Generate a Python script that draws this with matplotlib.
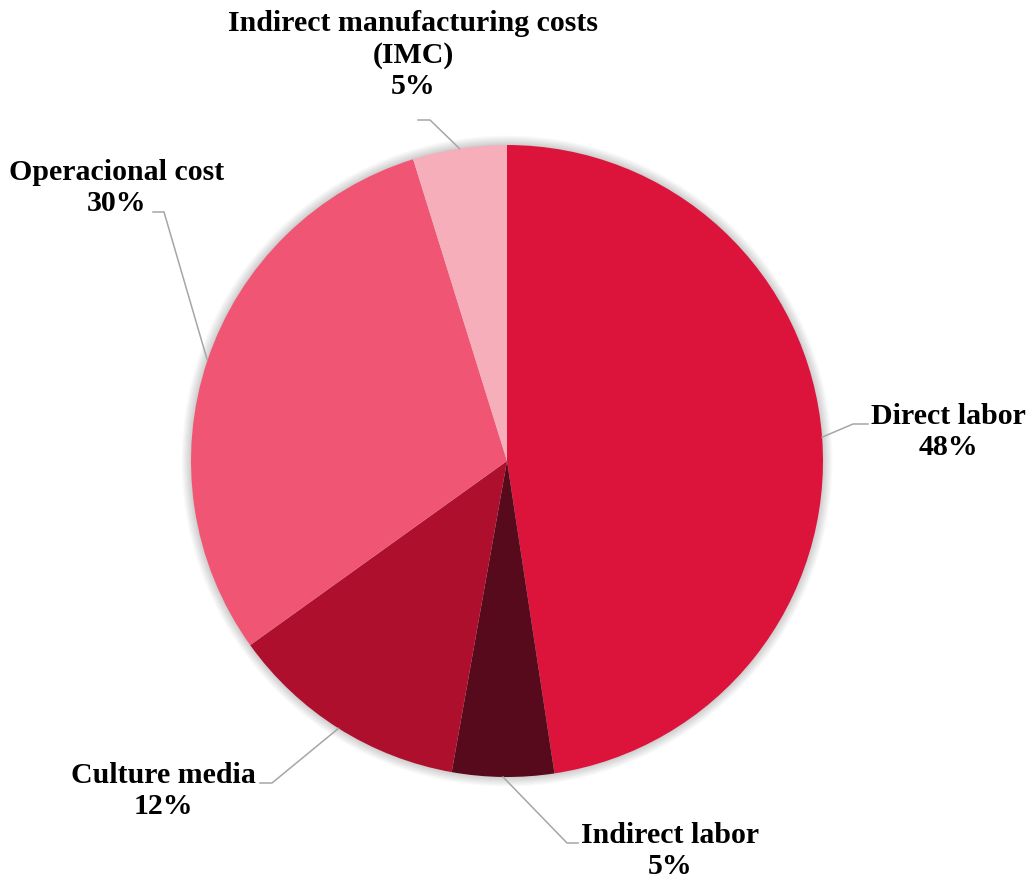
import matplotlib
matplotlib.use('Agg')
import matplotlib.pyplot as plt
import numpy as np
from matplotlib.patches import Circle

# Datos del gráfico (porcentajes)
categorias = ['Direct labor', 'Indirect labor', 'Culture media',
              'Operacional cost', 'Indirect manufacturing costs\n(IMC)']
valores = [47.6, 5.2, 12.3, 30.1, 4.8]
colores = ['#DC143C', '#560A1B', '#AD0F2D', '#F05674', '#F7AEBB']

# Posiciones de etiquetas (px, origen arriba a la izquierda): texto, codo, fin de la línea
W, H = 1028, 881
pos_texto = [(948, 432), (670, 851), (163, 791), (117, 188), (413, 55)]
pos_codo = [(853, 424), (567, 843), (272, 783), (164, 212), (430, 120)]
pos_fin = [(868, 424), (578, 843), (260, 783), (153, 212), (418, 120)]

centro = (507, H - 461)
radio = 316

fig = plt.figure(figsize=(W / 100, H / 100), dpi=100)
ax = fig.add_axes([0, 0, 1, 1])

# Sombra suave alrededor del pastel
for i in range(8):
    ax.add_patch(Circle(centro, radio + 1 + i * 1.2, color='black', alpha=0.025, lw=0, zorder=0))

wedges, _ = ax.pie(valores, colors=colores, startangle=90, counterclock=False,
                   center=centro, radius=radio, frame=True,
                   wedgeprops=dict(linewidth=0))
ax.set_xlim(0, W)
ax.set_ylim(0, H)
ax.set_aspect('equal')
ax.axis('off')

total = sum(valores)
for w, cat, v, t, c, f in zip(wedges, categorias, valores, pos_texto, pos_codo, pos_fin):
    ang = np.deg2rad((w.theta1 + w.theta2) / 2)
    x0 = centro[0] + radio * np.cos(ang)
    y0 = centro[1] + radio * np.sin(ang)
    ax.plot([x0, c[0], f[0]], [y0, H - c[1], H - f[1]], color='#A6A6A6', lw=1.1,
            solid_joinstyle='miter', zorder=3)
    texto = f'{cat}\n{round(v / total * 100):.0f}%'
    ax.text(t[0], H - t[1], texto, ha='center', va='center', fontsize=21.5,
            fontweight='bold', family='Liberation Serif', linespacing=1.22, zorder=4)

fig.savefig('out.png', dpi=100)
